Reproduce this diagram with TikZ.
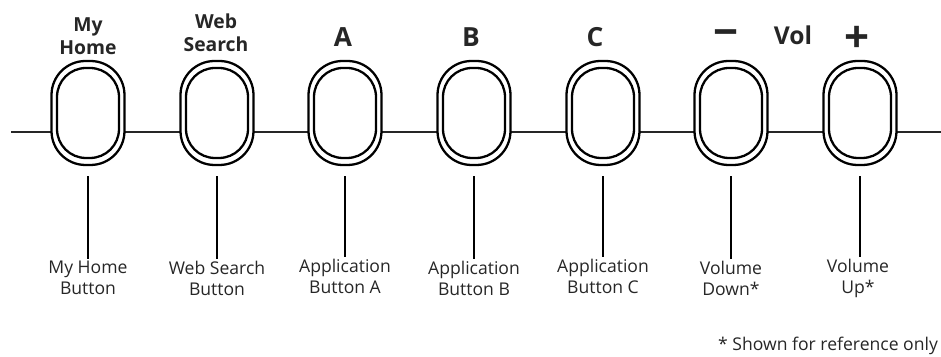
\documentclass[tikz,border=0pt]{standalone}
\usepackage{fontspec}
\setmainfont{Open Sans}
\usetikzlibrary{positioning}

\tikzset{
  btnout/.style={draw, fill=white, line width=1.3pt, rounded corners=0.68cm,
    minimum width=1.46cm, minimum height=2.08cm, inner sep=0pt},
  btnin/.style={draw, line width=1.3pt, rounded corners=0.58cm,
    minimum width=1.24cm, minimum height=1.80cm, inner sep=0pt},
  toplbl/.style={font=\bfseries\fontsize{11}{13}\selectfont, align=center, text=black!85},
  biglbl/.style={font=\bfseries\fontsize{15}{17}\selectfont, text=black!85},
  signlbl/.style={font=\bfseries\fontsize{25}{27}\selectfont, text=black!85},
  botlbl/.style={font=\fontsize{10}{12}\selectfont, align=center, text=black!85, inner sep=1pt},
  leader/.style={line width=1.4pt, shorten <=0.2cm}
}

\begin{document}
\begin{tikzpicture}[x=0.02cm, y=-0.02cm]
  \useasboundingbox (0,0) rectangle (941,357);

  % Base line behind the buttons
  \coordinate (lstart) at (11,132);
  \coordinate (lend) at (941,132);
  \draw[line width=1.1pt, black!85] (lstart) -- (lend);

  % My Home
  \node[btnout] (home) at (88,113) {};
  \node[btnin] (homein) at (home.center) {};
  \node[toplbl] (hometop) at (88,36) {My\\Home};
  \node[botlbl] (homelbl) at (88,278) {My Home\\Button};
  \draw[leader] (home.south) -- (home.south |- homelbl.north);

  % Web Search
  \node[btnout] (web) at (217,113) {};
  \node[btnin] (webin) at (web.center) {};
  \node[toplbl] (webtop) at (216,33) {Web\\Search};
  \node[botlbl] (weblbl) at (217,278) {Web Search\\Button};
  \draw[leader] (web.south) -- (web.south |- weblbl.north);

  % Application A
  \node[btnout] (appa) at (345,113) {};
  \node[btnin] (appain) at (appa.center) {};
  \node[biglbl] (appatop) at (343,37) {A};
  \node[botlbl] (appalbl) at (345,276) {Application\\Button A};
  \draw[leader] (appa.south) -- (appa.south |- appalbl.north);

  % Application B
  \node[btnout] (appb) at (474,113) {};
  \node[btnin] (appbin) at (appb.center) {};
  \node[biglbl] (appbtop) at (471,37) {B};
  \node[botlbl] (appblbl) at (474,278) {Application\\Button B};
  \draw[leader] (appb.south) -- (appb.south |- appblbl.north);

  % Application C
  \node[btnout] (appc) at (603,113) {};
  \node[btnin] (appcin) at (appc.center) {};
  \node[biglbl] (appctop) at (595,37) {C};
  \node[botlbl] (appclbl) at (603,276) {Application\\Button C};
  \draw[leader] (appc.south) -- (appc.south |- appclbl.north);

  % Volume down
  \node[btnout] (voldn) at (731,113) {};
  \node[btnin] (voldnin) at (voldn.center) {};
  \node[signlbl] (voldntop) at (726,39) {−};
  \node[botlbl] (voldnlbl) at (731,278) {Volume\\Down*};
  \draw[leader] (voldn.south) -- (voldn.south |- voldnlbl.north);

  % Volume label
  \node[font=\bfseries\fontsize{14}{16}\selectfont, text=black!85] (voltop) at (793,35) {Vol};

  % Volume up
  \node[btnout] (volup) at (860,113) {};
  \node[btnin] (volupin) at (volup.center) {};
  \node[signlbl] (voluptop) at (857,39) {+};
  \node[botlbl] (voluplbl) at (858,278) {Volume\\Up*};
  \draw[leader] (volup.south) -- (volup.south |- voluplbl.north);

  % Footnote
  \node[botlbl, anchor=east] (note) at (940,346) {* Shown for reference only};
\end{tikzpicture}
\end{document}
